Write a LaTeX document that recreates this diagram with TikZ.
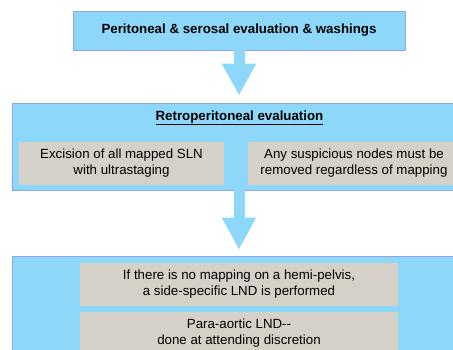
\documentclass[tikz,border=0pt]{standalone}
\usepackage{fontspec}
\setmainfont{Liberation Sans}
\usepackage{tikz}
\usetikzlibrary{arrows.meta}

\definecolor{boxblue}{HTML}{8DD8F8}
\definecolor{edgeblue}{HTML}{8EA6E8}
\definecolor{boxgray}{HTML}{D5D0C8}

\begin{document}
\begin{tikzpicture}[x=1pt, y=-1pt,
    bluebox/.style={draw=edgeblue, line width=0.8pt, fill=boxblue, inner sep=0pt},
    graybox/.style={fill=boxgray, inner sep=0pt, align=center,
      font=\fontsize{13.3}{16}\selectfont},
    bigarrow/.style={draw=boxblue, line width=11pt,
      -{Triangle[width=32pt, length=32pt]}}]

      % page frame
      \clip (0,0) rectangle (453,349);
      \fill[white] (0,0) rectangle (453,349);

      % first step
      \node[bluebox, minimum width=332pt, minimum height=39pt,
        font=\bfseries\fontsize{13.3}{16}\selectfont] (perit) at (239,30.5)
        {Peritoneal \& serosal evaluation \& washings};

      % retroperitoneal step
      \node[bluebox, minimum width=455pt, minimum height=87pt] (retro) at (239.5,146.5) {};
      \node[font=\bfseries\fontsize{13.3}{16}\selectfont] (retrotitle) at (239.5,118)
        {\underline{Retroperitoneal evaluation}};
      \node[graybox, minimum width=205pt, minimum height=43pt] (sln) at (121.5,163.5)
        {Excision of all mapped SLN\\with ultrastaging};
      \node[graybox, minimum width=212pt, minimum height=43pt] (susp) at (354,163.5)
        {Any suspicious nodes must be\\removed regardless of mapping};

      % lymphadenectomy step
      \node[bluebox, minimum width=455pt, minimum height=144pt] (lnd) at (239.5,328) {};
      \node[graybox, minimum width=318pt, minimum height=43pt] (hemi) at (239,284.5)
        {If there is no mapping on a hemi-pelvis,\\a side-specific LND is performed};
      \node[graybox, minimum width=318pt, minimum height=43pt] (para) at (239,333.5)
        {Para-aortic LND-{}-\\done at attending discretion};

      % block arrows
      \draw[bigarrow, shorten >=7pt] (perit.south) -- (retro.north -| perit.south);
      \draw[bigarrow, shorten >=6pt] (retro.south -| perit.south) -- (lnd.north -| perit.south);
    \end{tikzpicture}
\end{document}
